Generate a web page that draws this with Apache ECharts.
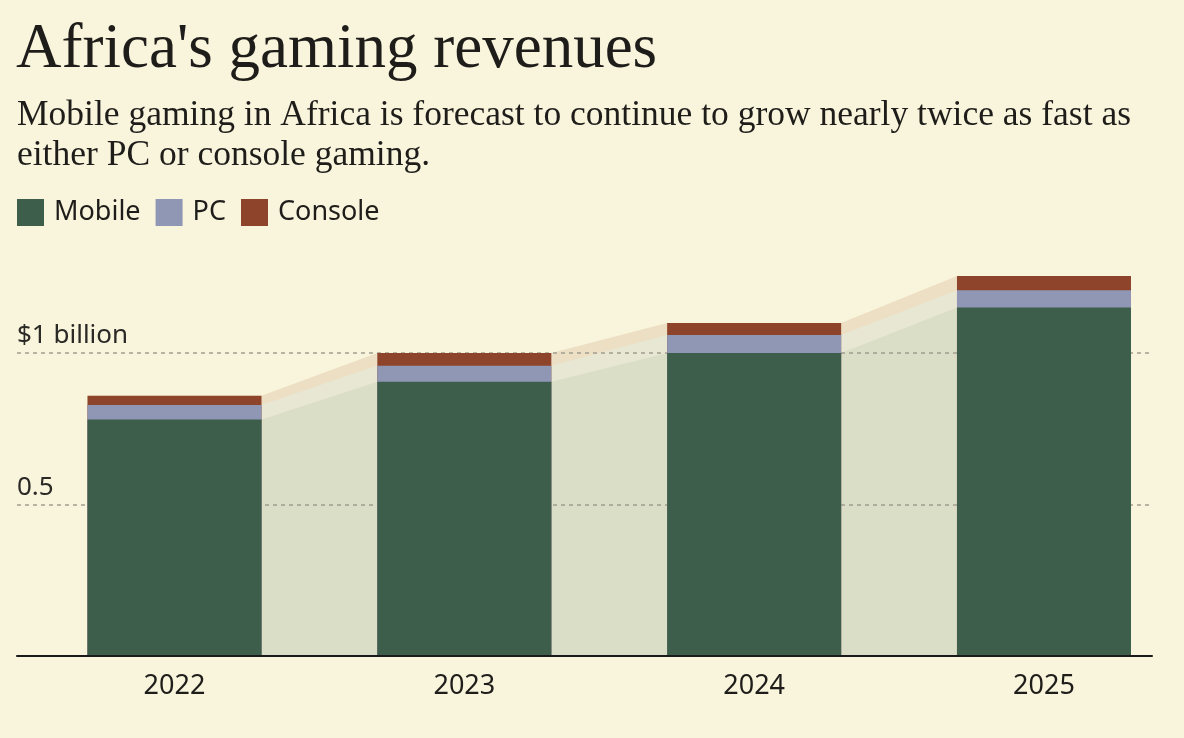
<!DOCTYPE html>
<html>
<head>
<meta charset="utf-8">
<script src="https://cdn.jsdelivr.net/npm/echarts@6/dist/echarts.min.js"></script>
<style>
html,body{margin:0;padding:0;background:#f9f4dc;}
#c{width:1184px;height:738px;}
</style>
</head>
<body>
<div id="c"></div>
<script>
// Data (USD billion)
const years = ['2022', '2023', '2024', '2025'];
const mobile = [0.78, 0.905, 1.0, 1.15];
const pc = [0.048, 0.053, 0.059, 0.057];
const consoleRev = [0.031, 0.042, 0.040, 0.047];
const yTickLabels = { 0.5: '0.5', 1: '$1 billion' };

const colors = { mobile: '#3d5e4a', pc: '#9097b5', console: '#8e432b' };
const areaColors = { mobile: '#dbdec6', pc: '#e8e7d4', console: '#ecdfc3' };

const half = 0.3; // half bar width in category units
const pcCum = mobile.map((v, i) => v + pc[i]);
const totCum = pcCum.map((v, i) => v + consoleRev[i]);

function bars(vals) { return vals.map((v, i) => [i, v]); }
function band(vals) {
  const out = [];
  vals.forEach((v, i) => { out.push([i - half, v]); out.push([i + half, v]); });
  return out;
}

const sans = '"Noto Sans", "Open Sans", sans-serif';
const serif = '"Liberation Serif", "DejaVu Serif", serif';
const ink = '#1e1d1a';

const chart = echarts.init(document.getElementById('c'));
chart.setOption({
  backgroundColor: '#f9f4dc',
  animation: false,
  title: [
    { text: "Africa's gaming revenues", left: 16, top: 19, padding: 0,
      textStyle: { fontFamily: serif, fontSize: 63, fontWeight: 'normal', color: ink } },
    { text: 'Mobile gaming in Africa is forecast to continue to grow nearly twice as fast as\neither PC or console gaming.',
      left: 17, top: 96, padding: 0,
      textStyle: { fontFamily: serif, fontSize: 35.5, fontWeight: 'normal', color: ink, lineHeight: 40 } }
  ],
  legend: {
    left: 12, top: 194, icon: 'rect', itemWidth: 27, itemHeight: 27, itemGap: 15,
    data: ['Mobile', 'PC', 'Console'],
    textStyle: { fontFamily: sans, fontSize: 27, color: ink, padding: [0, 0, 0, 5] }
  },
  grid: { left: 17, right: 32, top: 262, bottom: 82, containLabel: false },
  xAxis: {
    type: 'value', min: -0.5434, max: 3.3727, z: 5,
    axisLine: { show: true, lineStyle: { color: '#1a1a1a', width: 2 } },
    axisTick: { show: false },
    splitLine: { show: false },
    axisLabel: {
      customValues: [0, 1, 2, 3],
      formatter: v => years[Math.round(v)] || '',
      fontFamily: sans, fontSize: 27, color: ink, margin: 17
    }
  },
  yAxis: {
    type: 'value', min: 0, max: 1.3, interval: 0.5, z: 2,
    axisLine: { show: false }, axisTick: { show: false },
    splitLine: { show: true, showMinLine: false, showMaxLine: false,
      lineStyle: { color: '#a19e91', type: [4, 4], width: 1.5 } },
    axisLabel: {
      inside: true, margin: 0, align: 'left', verticalAlign: 'bottom',
      padding: [0, 0, 4, 0], showMinLabel: false, showMaxLabel: false,
      formatter: v => yTickLabels[v] || '',
      fontFamily: sans, fontSize: 26, color: '#2a2926'
    }
  },
  series: [
    { name: 'ConsoleArea', type: 'line', data: band(totCum), symbol: 'none', z: 1,
      lineStyle: { width: 0 }, areaStyle: { color: areaColors.console, opacity: 1 }, silent: true },
    { name: 'PCArea', type: 'line', data: band(pcCum), symbol: 'none', z: 1,
      lineStyle: { width: 0 }, areaStyle: { color: areaColors.pc, opacity: 1 }, silent: true },
    { name: 'MobileArea', type: 'line', data: band(mobile), symbol: 'none', z: 1,
      lineStyle: { width: 0 }, areaStyle: { color: areaColors.mobile, opacity: 1 }, silent: true },
    { name: 'Console', type: 'bar', data: bars(totCum), barWidth: 174, barGap: '-100%', z: 3,
      itemStyle: { color: colors.console } },
    { name: 'PC', type: 'bar', data: bars(pcCum), barWidth: 174, barGap: '-100%', z: 3,
      itemStyle: { color: colors.pc } },
    { name: 'Mobile', type: 'bar', data: bars(mobile), barWidth: 174, barGap: '-100%', z: 3,
      itemStyle: { color: colors.mobile } }
  ]
});
</script>
</body>
</html>
